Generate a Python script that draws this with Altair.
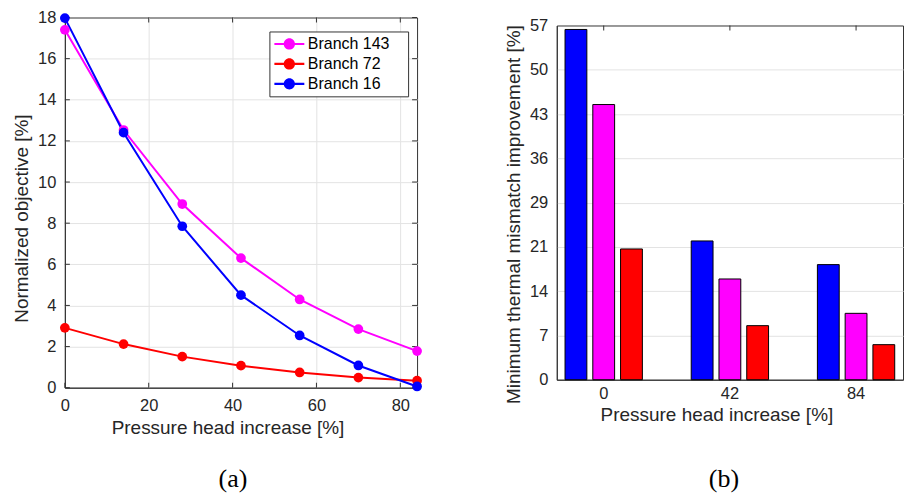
import altair as alt
import pandas as pd

# ---------------- data ----------------
pressure = [0, 14, 28, 42, 56, 70, 84]
branch143 = [17.40, 12.53, 8.93, 6.30, 4.29, 2.85, 1.78]
branch72 = [2.91, 2.12, 1.51, 1.07, 0.74, 0.49, 0.34]
branch16 = [17.97, 12.40, 7.85, 4.50, 2.54, 1.08, 0.06]

series_names = ["Branch 143", "Branch 72", "Branch 16"]
series_colors = ["#ff00ff", "#ff0000", "#0000ff"]

bar_groups = ["0", "42", "84"]
bar_series = ["Branch 16", "Branch 143", "Branch 72"]
bar_colors = ["#0000ff", "#ff00ff", "#ff0000"]
bar16 = [56.36, 22.33, 18.52]
bar143 = [44.28, 16.21, 10.68]
bar72 = [21.04, 8.70, 5.64]

x_ticks_a = [0, 20, 40, 60, 80]
y_ticks_a = [0, 2, 4, 6, 8, 10, 12, 14, 16, 18]
y_ticks_b = [i * 57 / 8 for i in range(9)]

# ---------------- tables ----------------
rows_a = []
for name, vals in zip(series_names, [branch143, branch72, branch16]):
    for p, v in zip(pressure, vals):
        rows_a.append({"pressure": p, "value": v, "branch": name})
df_a = pd.DataFrame(rows_a)

rows_b = []
for name, vals in zip(bar_series, [bar16, bar143, bar72]):
    for g, v in zip(bar_groups, vals):
        rows_b.append({"group": g, "value": v, "branch": name})
df_b = pd.DataFrame(rows_b)

df_xt = pd.DataFrame({"pressure": x_ticks_a})
df_yt = pd.DataFrame({"value": y_ticks_a})
df_gt = pd.DataFrame({"group": bar_groups})

FONT = "Liberation Sans"
SERIF = "Liberation Serif"
TXT = "#262626"
GRID = "#e3e3e3"
AX = "#333333"
WA, HA = 353, 371
WB, HB = 347, 355

# ---------------- panel (a) ----------------
xa = alt.X(
    "pressure:Q",
    scale=alt.Scale(domain=[0, 84], nice=False, zero=False),
    axis=alt.Axis(
        values=x_ticks_a, title="Pressure head increase [%]", ticks=False,
        labelPadding=10, titlePadding=4, format="d", titleX=163, labelFlush=False,
        gridOpacity={"condition": {"test": "datum.value == 0", "value": 0}, "value": 1},
    ),
)
ya = alt.Y(
    "value:Q",
    scale=alt.Scale(domain=[0, 18], nice=False),
    axis=alt.Axis(
        values=y_ticks_a, title="Normalized objective [%]", ticks=False,
        labelPadding=9, titlePadding=6, format="d", titleY=201, labelFlush=False,
        gridOpacity={"condition": {"test": "datum.value == 0 || datum.value == 18", "value": 0}, "value": 1},
    ),
)
cscale = alt.Scale(domain=series_names, range=series_colors)

legend_path = "M-1,-0.14H3V0.14H-1Z M1.75,0A0.75,0.75,0,1,1,0.25,0A0.75,0.75,0,1,1,1.75,0Z"

lines = alt.Chart(df_a).mark_line(strokeWidth=2).encode(
    x=xa, y=ya,
    color=alt.Color("branch:N", scale=cscale, sort=series_names, legend=None),
)
points = alt.Chart(df_a).mark_point(filled=True, size=95, opacity=1).encode(
    x=xa, y=ya,
    color=alt.Color(
        "branch:N", scale=cscale, sort=series_names,
        legend=alt.Legend(
            title="M", titleOrient="right", titleColor="#ffffff", titleFontSize=16,
            titlePadding=0, titleFont=FONT,
            orient="none", legendX=205, legendY=14,
            symbolType=legend_path, symbolSize=225, symbolStrokeWidth=0,
            symbolOpacity=1, labelOffset=18, rowPadding=4, padding=4.5,
            labelFont=FONT, labelFontSize=16, labelColor="#000000",
            strokeColor=AX, fillColor="#ffffff",
        ),
    ),
)

# inward tick marks (MATLAB style box ticks)
tick_kw = dict(color=AX, thickness=1, size=5, opacity=1)
yt_left = alt.Chart(df_yt).mark_tick(orient="horizontal", **tick_kw).encode(y=ya, x=alt.value(2.5))
yt_right = alt.Chart(df_yt).mark_tick(orient="horizontal", **tick_kw).encode(y=ya, x=alt.value(WA - 2.5))
xt_bottom = alt.Chart(df_xt).mark_tick(orient="vertical", **tick_kw).encode(x=xa, y=alt.value(HA - 2.5))
xt_top = alt.Chart(df_xt).mark_tick(orient="vertical", **tick_kw).encode(x=xa, y=alt.value(2.5))

panel_a = alt.layer(yt_left, yt_right, xt_bottom, xt_top, lines, points).resolve_legend(
    color="independent"
).properties(
    width=WA, height=HA,
    title=alt.TitleParams(
        "(a)", orient="bottom", anchor="middle", frame="group", font=SERIF,
        fontSize=26, fontWeight="normal", color="#000000", offset=29, dx=-8,
    ),
)

# ---------------- panel (b) ----------------
xb = alt.X(
    "group:N", sort=bar_groups,
    scale=alt.Scale(paddingInner=0.34, paddingOuter=0.042),
    axis=alt.Axis(title="Pressure head increase [%]", labelAngle=0, ticks=False,
                  labelPadding=6, titlePadding=3, grid=False, titleX=160),
)
yb = alt.Y(
    "value:Q", scale=alt.Scale(domain=[0, 57], nice=False),
    axis=alt.Axis(values=y_ticks_b, labelExpr="round(datum.value)",
                  title="Minimum thermal mismatch improvement [%]", ticks=False,
                  labelPadding=9, titlePadding=6, titleY=189, labelFlush=False,
                  gridOpacity={"condition": {"test": "datum.value == 0 || datum.value == 57", "value": 0}, "value": 1}),
)
bars = alt.Chart(df_b).mark_bar(stroke="#000000", strokeWidth=1, opacity=1).encode(
    x=xb, y=yb,
    xOffset=alt.XOffset("branch:N", sort=bar_series,
                        scale=alt.Scale(paddingInner=0.214, paddingOuter=0.107)),
    color=alt.Color("branch:N", scale=alt.Scale(domain=bar_series, range=bar_colors), legend=None),
)
gt_top = alt.Chart(df_gt).mark_tick(orient="vertical", **tick_kw).encode(x=xb, y=alt.value(2.5))

panel_b = alt.layer(bars, gt_top).properties(
    width=WB, height=HB,
    title=alt.TitleParams(
        "(b)", orient="bottom", anchor="middle", frame="group", font=SERIF,
        fontSize=26, fontWeight="normal", color="#000000", offset=42, dx=-6,
    ),
)

chart = alt.hconcat(panel_a, panel_b, spacing=140, bounds="flush", center=True).properties(
    padding={"left": 12, "top": 8, "right": 0, "bottom": 0},
    background="#ffffff",
).configure_axis(
    labelFont=FONT, labelFontSize=16.5, labelColor=TXT,
    titleFont=FONT, titleFontSize=19, titleFontWeight="normal", titleColor=TXT,
    gridColor=GRID, gridWidth=1, domainColor=AX, domainWidth=1,
).configure_view(stroke=AX, strokeWidth=1)

chart.save("out.html", embed_options={"renderer": "svg", "actions": False})
